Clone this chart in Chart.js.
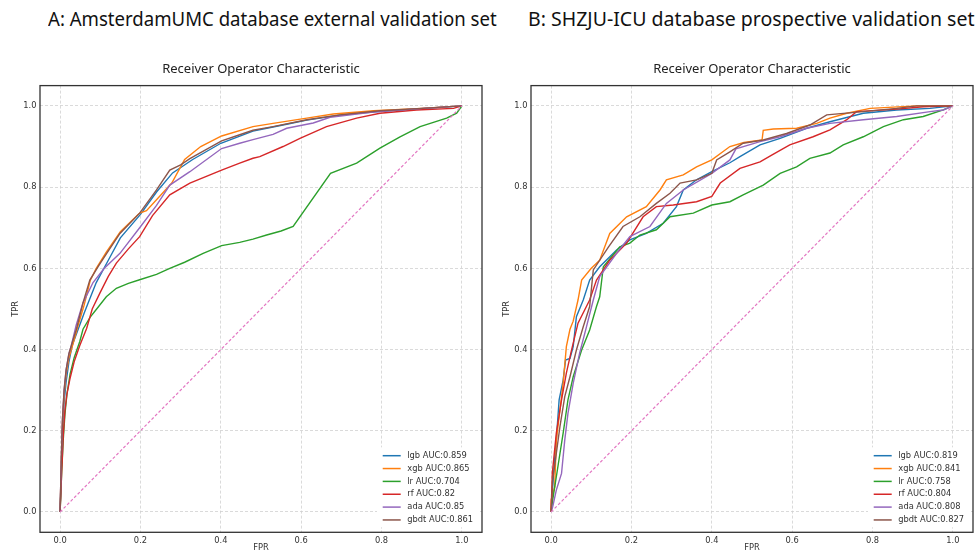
<!DOCTYPE html>
<html>
<head>
<meta charset="utf-8">
<script src="https://cdn.jsdelivr.net/npm/chart.js@4.4.0/dist/chart.umd.min.js"></script>
<style>
  body { margin: 0; background: #fff; width: 976px; height: 553px; overflow: hidden; position: relative; font-family: "Noto Sans", sans-serif; }
  .big { position: absolute; top: 5px; font-size: 20px; white-space: nowrap; color: #111; transform-origin: left top; }
  canvas { position: absolute; top: 50px; }
</style>
</head>
<body>
<div class="big" id="titleA" style="left:48px">A: AmsterdamUMC database external validation set</div>
<div class="big" id="titleB" style="left:528px">B: SHZJU-ICU database prospective validation set</div>
<canvas id="chartA" width="491" height="503" style="left:0"></canvas>
<canvas id="chartB" width="485" height="503" style="left:491px"></canvas>
<script>
// models and AUC values from the legends
const models = ['lgb', 'xgb', 'lr', 'rf', 'ada', 'gbdt'];
const aucA = [0.859, 0.865, 0.704, 0.82, 0.85, 0.861];
const aucB = [0.819, 0.841, 0.758, 0.804, 0.808, 0.827];
const tickValues = [0, 0.2, 0.4, 0.6, 0.8, 1.0];
const chance = [[0, 0], [1, 1]];

// A: AmsterdamUMC, [fpr, tpr]
const lgbA = [[0,0],[0.003,0.1],[0.006,0.2],[0.01,0.27],[0.015,0.32],[0.022,0.37],[0.03,0.41],[0.045,0.45],[0.06,0.49],[0.072,0.52],[0.09,0.565],[0.12,0.62],[0.15,0.675],[0.2,0.733],[0.24,0.788],[0.28,0.835],[0.33,0.868],[0.4,0.908],[0.48,0.938],[0.53,0.948],[0.57,0.956],[0.614,0.965],[0.7,0.978],[0.8,0.987],[0.9,0.993],[1,1]];
const xgbA = [[0,0],[0.003,0.12],[0.006,0.22],[0.01,0.29],[0.015,0.34],[0.022,0.38],[0.031,0.41],[0.045,0.46],[0.06,0.51],[0.075,0.57],[0.09,0.6],[0.115,0.64],[0.15,0.69],[0.198,0.736],[0.215,0.742],[0.278,0.81],[0.31,0.868],[0.35,0.9],[0.402,0.926],[0.48,0.949],[0.53,0.957],[0.614,0.97],[0.68,0.98],[0.78,0.988],[0.9,0.994],[1,1]];
const lrA = [[0,0],[0.004,0.1],[0.008,0.18],[0.012,0.24],[0.017,0.29],[0.025,0.34],[0.035,0.38],[0.049,0.42],[0.057,0.45],[0.075,0.48],[0.091,0.5],[0.115,0.53],[0.14,0.551],[0.17,0.563],[0.198,0.572],[0.24,0.585],[0.273,0.6],[0.31,0.615],[0.356,0.637],[0.402,0.656],[0.447,0.664],[0.48,0.672],[0.514,0.682],[0.55,0.692],[0.58,0.703],[0.673,0.834],[0.738,0.859],[0.796,0.896],[0.846,0.924],[0.896,0.949],[0.962,0.97],[0.987,0.982],[1,1]];
const rfA = [[0,0],[0.004,0.1],[0.008,0.19],[0.012,0.25],[0.017,0.29],[0.025,0.33],[0.035,0.37],[0.049,0.41],[0.066,0.452],[0.08,0.5],[0.099,0.539],[0.12,0.58],[0.14,0.613],[0.17,0.648],[0.198,0.678],[0.23,0.73],[0.273,0.781],[0.323,0.81],[0.402,0.842],[0.447,0.859],[0.48,0.871],[0.497,0.875],[0.555,0.9],[0.597,0.92],[0.663,0.949],[0.738,0.97],[0.796,0.982],[0.887,0.99],[0.979,0.994],[1,1]];
const adaA = [[0,0],[0.003,0.13],[0.006,0.23],[0.01,0.3],[0.015,0.35],[0.022,0.39],[0.028,0.41],[0.04,0.46],[0.057,0.515],[0.082,0.565],[0.11,0.6],[0.149,0.637],[0.198,0.7],[0.24,0.755],[0.273,0.805],[0.323,0.838],[0.402,0.895],[0.447,0.908],[0.48,0.917],[0.53,0.93],[0.564,0.945],[0.63,0.958],[0.672,0.972],[0.779,0.985],[0.904,0.994],[1,1]];
const gbdtA = [[0,0],[0.003,0.13],[0.006,0.23],[0.01,0.3],[0.015,0.35],[0.022,0.39],[0.028,0.41],[0.041,0.452],[0.057,0.515],[0.074,0.571],[0.095,0.605],[0.116,0.637],[0.149,0.686],[0.198,0.736],[0.24,0.793],[0.273,0.842],[0.3,0.855],[0.323,0.87],[0.402,0.914],[0.447,0.929],[0.48,0.94],[0.53,0.949],[0.614,0.966],[0.696,0.978],[0.796,0.988],[0.9,0.994],[1,1]];

// B: SHZJU-ICU, [fpr, tpr]
const lgbB = [[0,0],[0.004,0.062],[0.008,0.12],[0.013,0.177],[0.02,0.276],[0.03,0.325],[0.036,0.374],[0.047,0.378],[0.055,0.407],[0.063,0.481],[0.08,0.522],[0.096,0.571],[0.121,0.604],[0.163,0.645],[0.196,0.67],[0.237,0.686],[0.279,0.711],[0.312,0.752],[0.329,0.793],[0.362,0.818],[0.4,0.838],[0.445,0.86],[0.47,0.875],[0.52,0.904],[0.57,0.92],[0.636,0.945],[0.694,0.961],[0.777,0.982],[0.86,0.99],[0.943,0.994],[1,1]];
const xgbB = [[0,0],[0,0.03],[0.009,0.062],[0.013,0.177],[0.022,0.251],[0.03,0.317],[0.038,0.407],[0.047,0.45],[0.055,0.47],[0.067,0.522],[0.076,0.571],[0.1,0.6],[0.121,0.62],[0.146,0.686],[0.188,0.727],[0.237,0.752],[0.271,0.793],[0.287,0.818],[0.329,0.83],[0.362,0.85],[0.4,0.867],[0.445,0.9],[0.48,0.91],[0.525,0.916],[0.528,0.94],[0.553,0.943],[0.611,0.945],[0.661,0.957],[0.694,0.97],[0.736,0.982],[0.794,0.994],[0.91,1],[1,1]];
const lrB = [[0,0],[0.004,0.03],[0.017,0.112],[0.03,0.194],[0.042,0.276],[0.055,0.333],[0.076,0.399],[0.096,0.448],[0.113,0.506],[0.121,0.53],[0.13,0.604],[0.171,0.653],[0.196,0.662],[0.221,0.682],[0.262,0.695],[0.296,0.727],[0.354,0.736],[0.4,0.756],[0.445,0.764],[0.478,0.781],[0.528,0.805],[0.57,0.834],[0.611,0.85],[0.644,0.871],[0.694,0.884],[0.727,0.904],[0.777,0.924],[0.827,0.949],[0.877,0.966],[0.926,0.974],[0.976,0.99],[1,1]];
const rfB = [[0,0],[0.003,0.095],[0.013,0.194],[0.026,0.276],[0.038,0.342],[0.051,0.399],[0.067,0.465],[0.096,0.522],[0.113,0.571],[0.146,0.62],[0.188,0.662],[0.229,0.727],[0.262,0.752],[0.304,0.756],[0.362,0.764],[0.4,0.777],[0.421,0.81],[0.47,0.846],[0.52,0.862],[0.549,0.879],[0.594,0.904],[0.652,0.924],[0.694,0.941],[0.736,0.966],[0.76,0.986],[0.86,0.992],[0.926,0.998],[1,1]];
const adaB = [[0,0],[0.004,0.013],[0.013,0.054],[0.026,0.095],[0.034,0.177],[0.042,0.243],[0.055,0.317],[0.071,0.391],[0.088,0.456],[0.105,0.522],[0.121,0.58],[0.163,0.637],[0.196,0.678],[0.246,0.703],[0.287,0.76],[0.329,0.793],[0.4,0.834],[0.445,0.867],[0.46,0.894],[0.52,0.912],[0.57,0.924],[0.636,0.945],[0.694,0.957],[0.777,0.966],[0.86,0.974],[0.943,0.986],[0.976,0.99],[1,1]];
const gbdtB = [[0,0],[0.004,0.079],[0.013,0.144],[0.022,0.21],[0.034,0.284],[0.047,0.333],[0.063,0.399],[0.08,0.456],[0.096,0.506],[0.105,0.596],[0.143,0.653],[0.179,0.703],[0.221,0.727],[0.262,0.76],[0.296,0.785],[0.321,0.81],[0.362,0.818],[0.4,0.834],[0.412,0.867],[0.445,0.887],[0.478,0.908],[0.528,0.916],[0.586,0.932],[0.644,0.953],[0.686,0.978],[0.777,0.986],[0.86,0.994],[0.91,1],[1,1]];

const colors = ['#1f77b4', '#ff7f0e', '#2ca02c', '#d62728', '#9467bd', '#8c564b'];
const tickFont = { family: 'DejaVu Sans', size: 8.3 };
const textColor = '#333';

// legend box in the lower right corner, like matplotlib's loc='lower right'
const boxLegend = {
  id: 'boxLegend',
  afterDraw(chart) {
    const ctx = chart.ctx;
    const a = chart.chartArea;
    const sets = chart.data.datasets.filter(d => d.label);
    ctx.save();
    ctx.fillStyle = '#fff';
    ctx.fillRect(a.right - 105, a.bottom - 85, 101, 80);
    ctx.font = '8.3px "DejaVu Sans"';
    ctx.textBaseline = 'middle';
    sets.forEach((d, i) => {
      const y = a.bottom - 76.6 + i * 12.85;
      ctx.strokeStyle = d.borderColor;
      ctx.lineWidth = 1.5;
      ctx.beginPath();
      ctx.moveTo(a.right - 99.3, y);
      ctx.lineTo(a.right - 81.3, y);
      ctx.stroke();
      ctx.fillStyle = textColor;
      ctx.fillText(d.label, a.right - 74.7, y);
    });
    // axes frame on all four sides
    ctx.strokeStyle = '#333';
    ctx.lineWidth = 1.3;
    ctx.strokeRect(a.left, a.top, a.right - a.left, a.bottom - a.top);
    ctx.restore();
  }
};

function axis(text, isX) {
  return {
    type: 'linear',
    min: -0.05,
    max: 1.05,
    afterBuildTicks: s => { s.ticks = tickValues.map(v => ({ value: v })); },
    afterFit: s => { if (isX) s.height = 20.7; else s.width = 40; },
    grid: { color: '#d0d0d0', lineWidth: 0.8, drawTicks: false },
    border: { display: false, dash: [3, 2] },
    ticks: {
      padding: 3.5,
      color: textColor,
      font: tickFont,
      autoSkip: false,
      maxRotation: 0,
      callback: v => v.toFixed(1)
    },
    title: {
      display: true,
      text: text,
      color: textColor,
      font: { family: 'DejaVu Sans', size: 8.3 },
      padding: isX ? 0 : { top: 11 }
    }
  };
}

function makeChart(id, curves, aucs, rightPad) {
  const datasets = curves.map((c, i) => ({
    label: models[i] + ' AUC:' + aucs[i],
    data: c.map(p => ({ x: p[0], y: p[1] })),
    borderColor: colors[i],
    borderWidth: 1.4,
    pointRadius: 0,
    tension: 0,
    order: 10 - i
  }));
  datasets.push({
    label: '',
    data: chance.map(p => ({ x: p[0], y: p[1] })),
    borderColor: '#e377c2',
    borderWidth: 1.2,
    borderDash: [3, 2],
    pointRadius: 0,
    order: 0
  });

  new Chart(document.getElementById(id), {
    type: 'line',
    data: { datasets: datasets },
    options: {
      responsive: false,
      animation: false,
      layout: { padding: { right: rightPad } },
      plugins: {
        legend: { display: false },
        tooltip: { enabled: false },
        title: {
          display: true,
          fullSize: false,
          text: 'Receiver Operator Characteristic',
          color: '#222',
          font: { family: 'Noto Sans', size: 13, weight: 'normal' },
          padding: { top: 11, bottom: 9 }
        }
      },
      scales: {
        x: axis('FPR', true),
        y: axis('TPR', false)
      }
    },
    plugins: [boxLegend]
  });
}

makeChart('chartA', [lgbA, xgbA, lrA, rfA, adaA, gbdtA], aucA, 9);
makeChart('chartB', [lgbB, xgbB, lrB, rfB, adaB, gbdtB], aucB, 3);

// squeeze the panel headings to the width they take in the figure
function fitTitles() {
  [['titleA', 449], ['titleB', 446]].forEach(([id, w]) => {
    const el = document.getElementById(id);
    el.style.transform = 'none';
    el.style.transform = 'scaleX(' + (w / el.offsetWidth) + ')';
  });
}
fitTitles();
if (document.fonts) document.fonts.ready.then(fitTitles);
</script>
</body>
</html>
